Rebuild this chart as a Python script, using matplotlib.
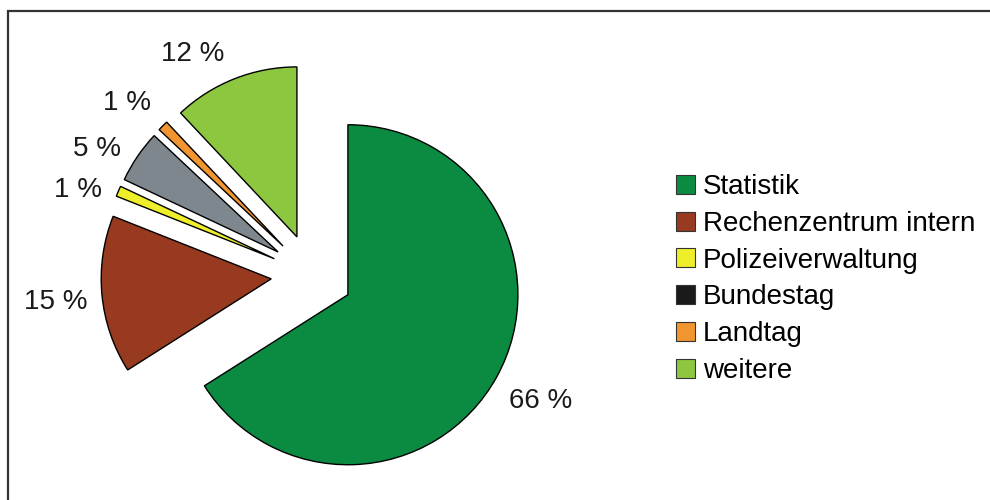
import matplotlib

matplotlib.use("Agg")
import matplotlib.pyplot as plt  # noqa: E402
from matplotlib.patches import Patch, Rectangle  # noqa: E402

plt.rcParams["font.family"] = ["Liberation Sans", "DejaVu Sans"]

categories = ["Statistik", "Rechenzentrum intern", "Polizeiverwaltung", "Bundestag", "Landtag", "weitere"]
shares = [66, 15, 1, 5, 1, 12]
slice_colors = ["#0b8a42", "#983a1f", "#eeee2a", "#7e878d", "#f0952f", "#8dc63f"]
legend_colors = ["#0b8a42", "#983a1f", "#eeee2a", "#1a1a1a", "#f0952f", "#8dc63f"]

# the percent labels were hand-placed in the original; small pixel nudges (right, down)
label_nudge = [(5, 3), (-2, 3), (0, 16), (-4, 17), (-5, 8), (-25, 16)]

PX = 170  # pixels per pie radius

fig = plt.figure(figsize=(9.9, 5.0), dpi=100)
ax = fig.add_axes([0, 0, 1, 1])

wedges, texts, autotexts = ax.pie(
    shares,
    colors=slice_colors,
    explode=[0.241] * len(shares),
    startangle=90,
    counterclock=False,
    autopct=lambda p: f"{p:.0f} %",
    pctdistance=1.26,
    wedgeprops={"edgecolor": "black", "linewidth": 1.0},
    textprops={"fontsize": 20, "color": "#1a1a1a"},
)
for txt, (dx, dy) in zip(autotexts, label_nudge):
    x, y = txt.get_position()
    txt.set_position((x + dx / PX, y - dy / PX))

ax.set_xlim(-312 / PX, 678 / PX)
ax.set_ylim(-225 / PX, 275 / PX)
ax.set_aspect("auto")
ax.axis("off")

handles = [Patch(facecolor=c, edgecolor="#333333", linewidth=0.8) for c in legend_colors]
fig.legend(
    handles,
    categories,
    loc="upper left",
    bbox_to_anchor=(676 / 990, 0.652),
    frameon=False,
    fontsize=20,
    handlelength=0.68,
    handleheight=0.68,
    handletextpad=0.29,
    labelspacing=0.39,
    borderpad=0,
    borderaxespad=0,
)

# frame of the original figure, only top and left edges visible
fig.patches.append(
    Rectangle((8 / 990, -0.1), 1.2, 0.1 + 489 / 500, transform=fig.transFigure,
              fill=False, edgecolor="#333333", linewidth=1.6)
)

fig.savefig("out.png", dpi=100)
plt.close(fig)
